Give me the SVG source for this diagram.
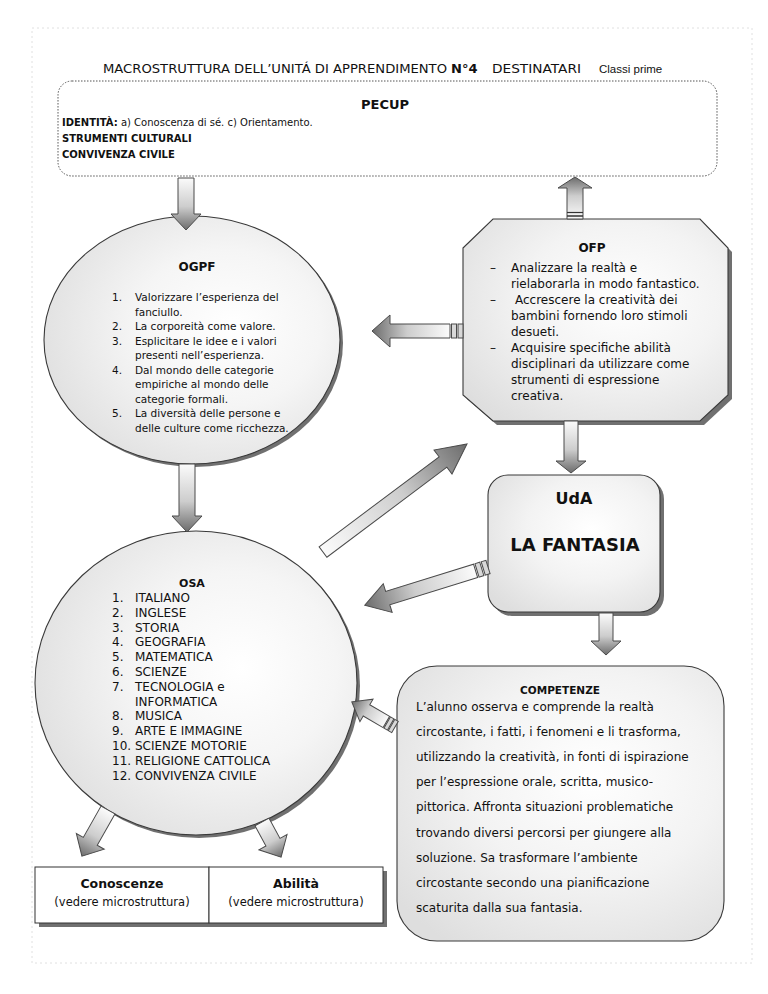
<svg xmlns="http://www.w3.org/2000/svg" width="768" height="994" viewBox="0 0 768 994">
<style>
text{font-family:"DejaVu Sans","Liberation Sans",sans-serif;fill:#111}
.t10{font-size:10px}
.t105{font-size:10.5px}
.t11{font-size:11px}
.t12{font-size:12px}
.b{font-weight:bold}
.mid{text-anchor:middle}
.shape{stroke:#3a3a3a;stroke-width:1.1}
.shadow{fill:#707070}
.arrow{fill:url(#arrowGrad);stroke:#4a4a4a;stroke-width:1;stroke-linejoin:miter}
.seg{fill:#d8d8d8;stroke:#4a4a4a;stroke-width:1}
</style>
<defs>
<radialGradient id="shapeGrad" cx="0.6" cy="0.45" r="0.7" fx="0.64" fy="0.45">
<stop offset="0" stop-color="#ffffff"/>
<stop offset="0.45" stop-color="#f5f5f5"/>
<stop offset="1" stop-color="#dcdcdc"/>
</radialGradient>
<radialGradient id="boxGrad" cx="0.6" cy="0.4" r="0.75">
<stop offset="0" stop-color="#ffffff"/>
<stop offset="0.5" stop-color="#f3f3f3"/>
<stop offset="1" stop-color="#dedede"/>
</radialGradient>
<linearGradient id="arrowGrad" x1="0" y1="0" x2="1" y2="0">
<stop offset="0" stop-color="#fbfbfb"/>
<stop offset="0.55" stop-color="#cdcdcd"/>
<stop offset="1" stop-color="#6c6c6c"/>
</linearGradient>
</defs>
<rect width="768" height="994" fill="#ffffff"/>
<rect x="32" y="28" width="720" height="935" fill="none" stroke="#e0e0e0" stroke-width="1" stroke-dasharray="2,3"/>

<text y="73"><tspan x="103" style="font-size:12px" textLength="344" lengthAdjust="spacingAndGlyphs">MACROSTRUTTURA DELL’UNITÁ DI APPRENDIMENTO</tspan><tspan x="451" class="b" style="font-size:13px">N°4</tspan><tspan x="492" style="font-size:12px" textLength="89" lengthAdjust="spacingAndGlyphs">DESTINATARI</tspan><tspan x="599" style="font-size:11.5px;font-family:'Liberation Sans',sans-serif">Classi prime</tspan></text>

<g id="pecup">
<rect x="58" y="81" width="659" height="95" rx="14" fill="#ffffff" stroke="#555" stroke-width="1" stroke-dasharray="1.5,1.5"/>
<text x="385" y="109" class="mid b" style="font-size:13px">PECUP</text>
<text x="62" y="126" class="t10"><tspan class="b">IDENTITÀ:</tspan> a) Conoscenza di sé. c) Orientamento.</text>
<text x="62" y="142" class="t10 b">STRUMENTI CULTURALI</text>
<text x="62" y="158" class="t10 b">CONVIVENZA CIVILE</text>
</g>

<g id="ogpf">
<ellipse cx="195" cy="343" rx="148" ry="124" class="shadow"/>
<ellipse cx="192" cy="340" rx="148" ry="124" fill="url(#shapeGrad)" class="shape"/>
<text x="197" y="271" class="mid b t12">OGPF</text>
<g class="t105">
<text x="112" y="301">1.</text><text x="135" y="301">Valorizzare l’esperienza del</text>
<text x="135" y="315.5">fanciullo.</text>
<text x="112" y="330">2.</text><text x="135" y="330">La corporeità come valore.</text>
<text x="112" y="344.5">3.</text><text x="135" y="344.5">Esplicitare le idee e i valori</text>
<text x="135" y="359">presenti nell’esperienza.</text>
<text x="112" y="373.5">4.</text><text x="135" y="373.5">Dal mondo delle categorie</text>
<text x="135" y="388">empiriche al mondo delle</text>
<text x="135" y="402.5">categorie formali.</text>
<text x="112" y="417">5.</text><text x="135" y="417">La diversità delle persone e</text>
<text x="135" y="431.5">delle culture come ricchezza.</text>
</g>
</g>

<g id="ofp">
<polygon points="467,252 497,223 704,223 732,252 732,399 704,425 497,425 467,399" class="shadow"/>
<polygon points="463,248 493,219 700,219 728,248 728,395 700,421 493,421 463,395" fill="url(#boxGrad)" class="shape"/>
<text x="592" y="252" class="mid b t12">OFP</text>
<g class="t12">
<text x="490" y="272">–</text><text x="511" y="272">Analizzare la realtà e</text>
<text x="511" y="288">rielaborarla in modo fantastico.</text>
<text x="490" y="304">–</text><text x="515" y="304">Accrescere la creatività dei</text>
<text x="511" y="320">bambini fornendo loro stimoli</text>
<text x="511" y="336">desueti.</text>
<text x="490" y="352">–</text><text x="511" y="352">Acquisire specifiche abilità</text>
<text x="511" y="368">disciplinari da utilizzare come</text>
<text x="511" y="384">strumenti di espressione</text>
<text x="511" y="400">creativa.</text>
</g>
</g>

<g id="uda">
<rect x="492" y="479" width="172" height="137" rx="20" class="shadow"/>
<rect x="488" y="475" width="172" height="137" rx="20" fill="url(#boxGrad)" class="shape"/>
<text x="574" y="504" class="mid b" style="font-size:16px">UdA</text>
<text x="575" y="551" class="mid b" style="font-size:18px">LA FANTASIA</text>
</g>

<g id="osa">
<ellipse cx="199" cy="686" rx="161" ry="152" class="shadow"/>
<ellipse cx="196" cy="683" rx="161" ry="152" fill="url(#shapeGrad)" class="shape"/>
<text x="192" y="587" class="mid b t11">OSA</text>
<g class="t12">
<text x="112" y="602">1.</text><text x="135" y="602">ITALIANO</text>
<text x="112" y="616.8">2.</text><text x="135" y="616.8">INGLESE</text>
<text x="112" y="631.6">3.</text><text x="135" y="631.6">STORIA</text>
<text x="112" y="646.4">4.</text><text x="135" y="646.4">GEOGRAFIA</text>
<text x="112" y="661.2">5.</text><text x="135" y="661.2">MATEMATICA</text>
<text x="112" y="676">6.</text><text x="135" y="676">SCIENZE</text>
<text x="112" y="690.8">7.</text><text x="135" y="690.8">TECNOLOGIA e</text>
<text x="135" y="705.6">INFORMATICA</text>
<text x="112" y="720.4">8.</text><text x="135" y="720.4">MUSICA</text>
<text x="112" y="735.2">9.</text><text x="135" y="735.2">ARTE E IMMAGINE</text>
<text x="112" y="750">10.</text><text x="135" y="750">SCIENZE MOTORIE</text>
<text x="112" y="764.8">11.</text><text x="135" y="764.8">RELIGIONE CATTOLICA</text>
<text x="112" y="779.6">12.</text><text x="135" y="779.6">CONVIVENZA CIVILE</text>
</g>
</g>

<g id="competenze">
<rect x="397" y="666" width="327" height="275" rx="40" fill="url(#boxGrad)" class="shape"/>
<text x="560" y="694" class="mid b" style="font-size:10.5px">COMPETENZE</text>
<g class="t12">
<text x="416" y="711">L’alunno osserva e comprende la realtà</text>
<text x="416" y="736.1">circostante, i fatti, i fenomeni e li trasforma,</text>
<text x="416" y="761.2">utilizzando la creatività, in fonti di ispirazione</text>
<text x="416" y="786.3">per l’espressione orale, scritta, musico-</text>
<text x="416" y="811.4">pittorica. Affronta situazioni problematiche</text>
<text x="416" y="836.5">trovando diversi percorsi per giungere alla</text>
<text x="416" y="861.6">soluzione. Sa trasformare l’ambiente</text>
<text x="416" y="886.7">circostante secondo una pianificazione</text>
<text x="416" y="911.8">scaturita dalla sua fantasia.</text>
</g>
</g>

<g id="conoscenze">
<rect x="39" y="871" width="174" height="56" class="shadow"/>
<rect x="35" y="867" width="174" height="56" fill="#ffffff" stroke="#333" stroke-width="1"/>
<text x="122" y="888" class="mid b" style="font-size:12.5px">Conoscenze</text>
<text x="122" y="906" class="mid" style="font-size:11.5px">(vedere microstruttura)</text>
</g>
<g id="abilita">
<rect x="213" y="871" width="174" height="56" class="shadow"/>
<rect x="209" y="867" width="174" height="56" fill="#ffffff" stroke="#333" stroke-width="1"/>
<text x="296" y="888" class="mid b" style="font-size:12.5px">Abilità</text>
<text x="296" y="906" class="mid" style="font-size:11.5px">(vedere microstruttura)</text>
</g>

<g id="connectors">
<path class="arrow" transform="translate(186,178) rotate(90)" d="M0,-8 L36,-8 L36,-15 L52,0 L36,15 L36,8 L0,8 Z"/>
<g transform="translate(575,219) rotate(-90)">
<path class="arrow" d="M0,-8 L31,-8 L31,-17 L42,0 L31,17 L31,8 L0,8 Z"/>
<line x1="3" y1="-8" x2="3" y2="8" stroke="#333" stroke-width="1.5"/>
<line x1="6.5" y1="-8" x2="6.5" y2="8" stroke="#333" stroke-width="1.2"/>
</g>
<g transform="translate(463,331) rotate(180)">
<rect class="seg" x="0" y="-7" width="5" height="14"/>
<rect class="seg" x="6.5" y="-7" width="5" height="14"/>
<path class="arrow" d="M13,-7 L73,-7 L73,-16 L91,0 L73,16 L73,7 L13,7 Z"/>
</g>
<path class="arrow" transform="translate(571,421) rotate(90)" d="M0,-7 L40,-7 L40,-15 L52,0 L40,15 L40,7 L0,7 Z"/>
<path class="arrow" transform="translate(187,464) rotate(90)" d="M0,-8 L52,-8 L52,-15 L68,0 L52,15 L52,8 L0,8 Z"/>
<path class="arrow" transform="translate(323,552) rotate(-36.87)" d="M0,-6.5 L150,-6.5 L150,-15 L180,0 L150,15 L150,6.5 L0,6.5 Z"/>
<g transform="translate(488,567) rotate(162.8)">
<rect class="seg" x="0" y="-7" width="5" height="14"/>
<rect class="seg" x="6.5" y="-7" width="5" height="14"/>
<path class="arrow" d="M13,-7 L105,-7 L105,-15 L129,0 L105,15 L105,7 L13,7 Z"/>
</g>
<path class="arrow" transform="translate(606,613) rotate(90)" d="M0,-7 L28,-7 L28,-15 L42,0 L28,15 L28,7 L0,7 Z"/>
<g transform="translate(395,727) rotate(-149.8)">
<rect class="seg" x="0" y="-6.5" width="4" height="13"/>
<rect class="seg" x="5" y="-6.5" width="4" height="13"/>
<path class="arrow" d="M10,-6.5 L33,-6.5 L33,-13 L50,0 L33,13 L33,6.5 L10,6.5 Z"/>
</g>
<path class="arrow" transform="translate(108,810) rotate(119.5)" d="M0,-8 L36,-8 L36,-16 L53,0 L36,16 L36,8 L0,8 Z"/>
<path class="arrow" transform="translate(262,822) rotate(61.5)" d="M0,-8 L23,-8 L23,-16 L40,0 L23,16 L23,8 L0,8 Z"/>
</g>
</svg>
